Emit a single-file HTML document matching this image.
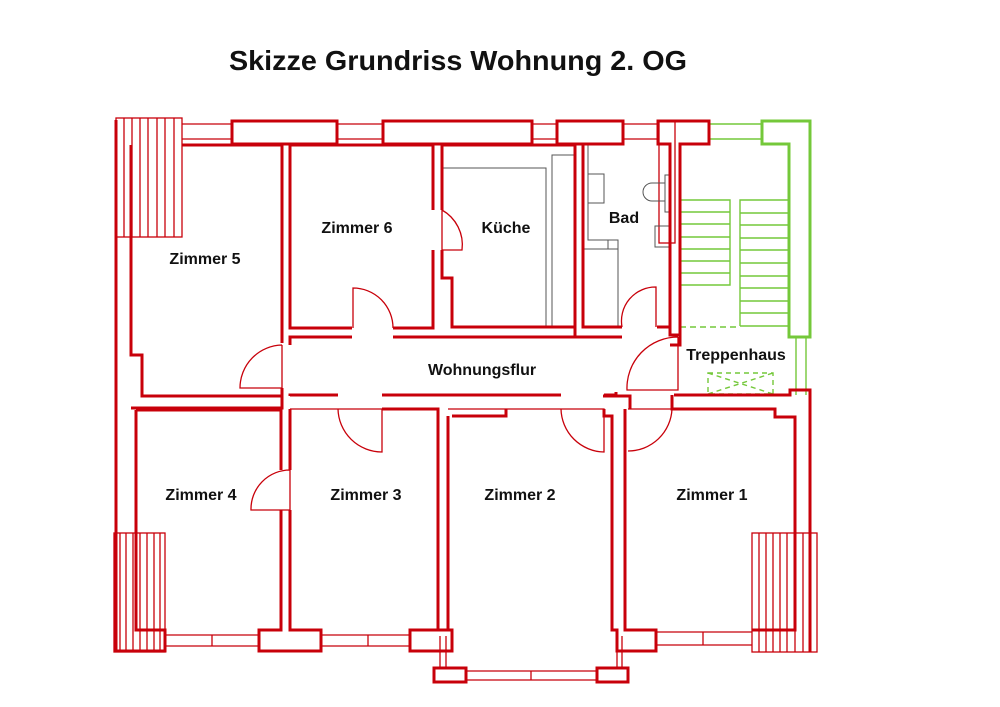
<!DOCTYPE html>
<html><head><meta charset="utf-8"><style>
html,body{margin:0;padding:0;background:#fff;}
svg{display:block;}
text{font-family:"Liberation Sans",Arial,sans-serif;font-weight:bold;fill:#111;}
</style></head><body>
<svg width="1000" height="707" viewBox="0 0 1000 707" xmlns="http://www.w3.org/2000/svg">
<text x="458" y="70" font-size="28" text-anchor="middle" textLength="458" lengthAdjust="spacingAndGlyphs">Skizze Grundriss Wohnung 2. OG</text>

<g fill="none" stroke="#c8000a" stroke-width="1.3">
 <line x1="182" y1="124" x2="232" y2="124"/><line x1="182" y1="139" x2="232" y2="139"/>
 <line x1="337" y1="124" x2="383" y2="124"/><line x1="337" y1="139" x2="383" y2="139"/>
 <line x1="532" y1="124" x2="557" y2="124"/><line x1="532" y1="139" x2="557" y2="139"/>
 <line x1="623" y1="124" x2="658" y2="124"/><line x1="623" y1="139" x2="658" y2="139"/>
 <rect x="116" y="118" width="66" height="119"/>
 <path d="M124,118V237M132,118V237M140,118V237M148,118V237M157,118V237M165,118V237M174,118V237"/>
 <rect x="114" y="533" width="51" height="119"/>
 <path d="M120,533V652M126,533V652M133,533V652M140,533V652M147,533V652M154,533V652M160,533V652"/>
 <rect x="752" y="533" width="65" height="119"/>
 <path d="M759,533V652M766,533V652M773,533V652M780,533V652M787,533V652M795,533V652M803,533V652M810,533V652"/>
 <rect x="659" y="121" width="16" height="122"/>
 <path d="M165,635H259M165,646H259M212,635V646"/>
 <path d="M321,635H410M321,646H410M368,635V646"/>
 <path d="M656,632H752M656,645H752M703,632V645"/>
 <path d="M466,671H597M466,680H597M531,671V680"/>
 <path d="M440,636V668M446,636V668M617,636V668M622,636V668"/>
 <path d="M442,210H442V250H462A40,40 0 0 0 442,210"/>
 <path d="M353,328V288A40,40 0 0 1 393,328"/>
 <path d="M282,345V388H240A43,43 0 0 1 282,345"/>
 <path d="M656,327V287A34,34 0 0 0 622,327"/>
 <path d="M678,337V390H627A51,51 0 0 1 678,337"/>
 <path d="M338,409H382V452A44,44 0 0 1 338,409"/>
 <path d="M561,409H604V452A44,44 0 0 1 561,409"/>
 <path d="M628,409H672A44,44 0 0 1 628,451"/>
 <path d="M290,470V510H251A39,39 0 0 1 290,470"/>
 <line x1="290" y1="409" x2="338" y2="409"/>
 <line x1="448" y1="409" x2="561" y2="409"/>
</g>

<g fill="none" stroke="#555" stroke-width="1">
 <path d="M442,168H546V327M552,327V155H574"/>
 <path d="M588,145V240H618V327M583,249H618M608,240V249"/>
 <rect x="588" y="174" width="16" height="29"/>
 <path d="M665,183H652A9,9 0 0 0 652,201H665"/>
 <rect x="665" y="175" width="6" height="37"/>
 <rect x="655" y="226" width="15" height="21"/>
</g>

<g fill="none" stroke="#74c83a" stroke-width="1.4">
 <path d="M709,124H762M709,139H762"/>
 <path d="M680,200H730V285H680M680,212H730M680,224H730M680,237H730M680,249H730M680,261H730M680,273H730"/>
 <path d="M740,326V200H789M740,213H789M740,225H789M740,238H789M740,250H789M740,263H789M740,276H789M740,288H789M740,301H789M740,313H789M740,326H789"/>
 <path d="M796,337V395M806,337V395"/>
 <path d="M680,327H740" stroke-dasharray="6,4"/>
 <path d="M708,373H773V394H708Z M708,373L773,394M708,394L773,373" stroke-dasharray="5,4"/>
</g>
<path d="M762,121H810V337H789V144H762Z" fill="none" stroke="#74c83a" stroke-width="3"/>

<g fill="none" stroke="#c8000a" stroke-width="3" stroke-linejoin="miter">
 <line x1="116" y1="120" x2="116" y2="652"/>
 <rect x="232" y="121" width="105" height="23"/>
 <rect x="383" y="121" width="149" height="23"/>
 <path d="M557,121H623V144H557Z"/>
 <path d="M658,121H709V144H680V335H670V144H658Z"/>
 <path d="M182,145H282V343"/>
 <path d="M131,145V355H142V396H282V388"/>
 <path d="M290,145V328H352M393,328H433V250M433,210V145H290"/>
 <path d="M575,145H442V210M442,250V278H452V327H575V145"/>
 <path d="M433,145V210"/>
 <path d="M583,145V327H622M657,327H670"/>
 <path d="M290,345V337H352M393,337H575V327M575,337H622"/>
 <path d="M680,335V345H670"/>
 <path d="M131,408H282V396M290,396V395H338M382,395H561M604,395H616V392"/>
 <path d="M674,395H790V390H810V652"/>
 <path d="M136,410H281V470M281,510V630H259V651H321V630H290V510M290,470V409"/>
 <path d="M136,410V630H165V651H114"/>
 <path d="M382,409H438V630H410V651H452V630H446"/>
 <path d="M452,416H506V409M448,416V630H436"/>
 <path d="M604,409V416H612V630H617V636"/>
 <rect x="434" y="668" width="32" height="14"/>
 <rect x="597" y="668" width="31" height="14"/>
 <path d="M625,409V630H656V651H617V630"/>
 <path d="M672,395V409H775V417H795V630H752"/>
 <path d="M603,396H630V409"/>
</g>

<g font-size="16" text-anchor="middle">
 <text x="205" y="264">Zimmer 5</text>
 <text x="357" y="233">Zimmer 6</text>
 <text x="506" y="233">Küche</text>
 <text x="624" y="223">Bad</text>
 <text x="482" y="375">Wohnungsflur</text>
 <text x="736" y="360">Treppenhaus</text>
 <text x="201" y="500">Zimmer 4</text>
 <text x="366" y="500">Zimmer 3</text>
 <text x="520" y="500">Zimmer 2</text>
 <text x="712" y="500">Zimmer 1</text>
</g>
</svg>
</body></html>
